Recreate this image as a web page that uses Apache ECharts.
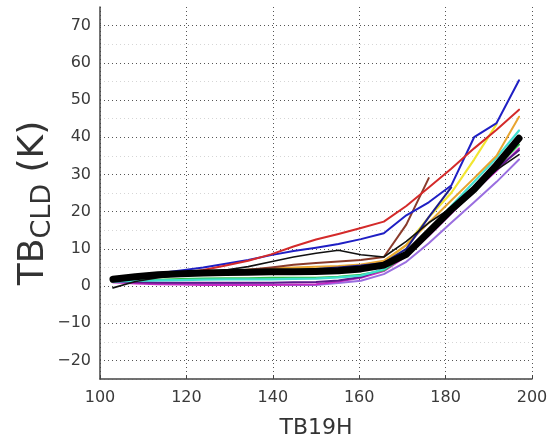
<!DOCTYPE html>
<html>
<head>
<meta charset="utf-8">
<script src="https://cdn.jsdelivr.net/npm/echarts@6/dist/echarts.min.js"></script>
<style>
  html, body { margin: 0; padding: 0; background: #fff; }
  #chart { width: 556px; height: 442px; }
</style>
</head>
<body>
<div id="chart"></div>
<script>
// TB19H bin centres (K)
const tb19h = [103, 108.2, 113.4, 118.7, 123.9, 129.1, 134.3, 139.6, 144.8, 150,
               155.2, 160.4, 165.7, 170.9, 176.1, 181.3, 186.6, 191.8, 197];

// Cloud brightness temperature per bin, one curve per case (null = no data)
const redCurve     = [1.5, 2.0, 2.6, 3.4, 4.3, 5.5, 6.8, 8.5, 10.6, 12.5, 14.0, 15.6, 17.3, 21.5, 26.5, 31.5, 37.0, 42.0, 47.4];
const blueCurve    = [1.8, 2.6, 3.4, 4.2, 5.0, 6.0, 7.0, 8.3, 9.4, 10.3, 11.3, 12.6, 14.2, 19.0, 22.5, 27.0, 40.0, 43.8, 55.3];
const navyCurve    = [1.6, 2.2, 2.7, 3.0, 3.3, 3.5, 3.7, 3.9, 4.2, 4.6, 5.0, 5.5, 6.2, 10.0, 18.5, 26.5, null, null, null];
const blackCurve   = [-0.5, 1.2, 2.2, 3.0, 3.6, 4.3, 5.2, 6.5, 7.8, 8.8, 9.6, 8.4, 7.8, 12.0, 17.0, 21.0, 26.0, 31.2, 35.3];
const brownCurve   = [1.6, 2.2, 2.7, 3.1, 3.5, 3.9, 4.4, 5.0, 5.7, 6.2, 6.6, 7.0, 7.8, 16.5, 29.0, null, null, null, null];
const orangeCurve  = [1.8, 2.4, 2.9, 3.3, 3.7, 4.0, 4.4, 4.8, 5.0, 5.2, 5.4, 5.8, 6.8, 11.0, 17.0, 23.0, 29.0, 35.0, 45.5];
const yellowCurve  = [1.7, 2.2, 2.6, 3.0, 3.3, 3.6, 3.9, 4.2, 4.4, 4.6, 4.8, 5.0, 6.5, 11.0, 18.5, 25.0, 34.0, 43.5, null];
const cyanCurve    = [1.2, 1.4, 1.5, 1.6, 1.7, 1.8, 1.8, 1.8, 1.9, 2.0, 2.3, 2.8, 4.5, 9.0, 15.0, 21.5, 28.0, 34.5, 41.8];
const greenCurve   = [1.3, 1.5, 1.7, 1.9, 2.0, 2.1, 2.1, 2.2, 2.2, 2.2, 2.5, 3.0, 4.2, 8.5, 14.0, 20.0, 26.0, 32.0, 38.0];
const magentaCurve = [1.0, 0.7, 0.5, 0.4, 0.3, 0.3, 0.3, 0.3, 0.4, 0.5, 1.2, 2.2, 4.0, 8.0, 13.5, 19.5, 25.5, 31.0, 37.0];
const darkPurpleCurve = [1.2, 1.0, 0.9, 0.9, 0.9, 0.9, 0.9, 0.9, 1.0, 1.1, 1.5, 2.4, 4.6, 8.5, 14.0, 20.0, 26.0, 31.5, 36.5];
const violetCurve  = [1.0, 1.0, 0.9, 0.8, 0.7, 0.6, 0.5, 0.4, 0.3, 0.3, 0.8, 1.4, 3.2, 6.5, 11.5, 17.0, 22.5, 28.0, 34.0];
const meanCurve    = [1.8, 2.5, 3.0, 3.3, 3.5, 3.6, 3.7, 3.8, 3.8, 3.9, 4.1, 4.6, 5.6, 8.5, 14.5, 20.5, 26.0, 32.5, 39.7];

const xTicks = [100, 120, 140, 160, 180, 200];
const yLabelStep = 10;

const curves = [
  { name: 'violet',     data: violetCurve,     color: '#9a6ee0', width: 2 },
  { name: 'magenta',    data: magentaCurve,    color: '#c42ac4', width: 2 },
  { name: 'darkPurple', data: darkPurpleCurve, color: '#5c1a8c', width: 2 },
  { name: 'green',      data: greenCurve,      color: '#2ec24a', width: 2 },
  { name: 'cyan',       data: cyanCurve,       color: '#40e0d0', width: 2.2 },
  { name: 'yellow',     data: yellowCurve,     color: '#f2e630', width: 2.2 },
  { name: 'orange',     data: orangeCurve,     color: '#e8a530', width: 2 },
  { name: 'brown',      data: brownCurve,      color: '#8a3b2b', width: 2 },
  { name: 'navy',       data: navyCurve,       color: '#1c1c8c', width: 2 },
  { name: 'black',      data: blackCurve,      color: '#111111', width: 1.6 },
  { name: 'blue',       data: blueCurve,       color: '#1f1fc4', width: 2 },
  { name: 'red',        data: redCurve,        color: '#d42a2a', width: 2 },
  { name: 'mean',       data: meanCurve,       color: '#000000', width: 7 }
];

const font = 'DejaVu Sans';
const chart = echarts.init(document.getElementById('chart'), null, { renderer: 'canvas' });

chart.setOption({
  backgroundColor: '#ffffff',
  animation: false,
  grid: { left: 100, right: 24, top: 7, bottom: 63, outerBoundsMode: 'none', containLabel: false },
  xAxis: {
    type: 'value',
    min: xTicks[0],
    max: xTicks[xTicks.length - 1],
    interval: 20,
    name: 'TB19H',
    nameLocation: 'middle',
    nameGap: 38,
    nameTextStyle: { fontFamily: font, fontSize: 22, color: '#333' },
    axisLine: { onZero: false, lineStyle: { color: '#444', width: 1.5 } },
    axisTick: { inside: true, length: 4, lineStyle: { color: '#444' } },
    axisLabel: { fontFamily: font, fontSize: 16, color: '#3a3a3a', margin: 11 },
    splitLine: {
      show: true,
      showMaxLine: true,
      lineStyle: { color: '#555', type: [1, 3], width: 1 }
    }
  },
  yAxis: {
    type: 'value',
    min: -25,
    max: 75,
    interval: 5,
    name: '{a|TB}{b|CLD}{a| (K)}',
    nameLocation: 'middle',
    nameRotate: 90,
    nameGap: 44,
    nameMoveOverlap: false,
    nameTextStyle: {
      padding: [0, 20, 0, 0],
      rich: {
        a: { fontFamily: font, fontSize: 36, color: '#333', lineHeight: 44 },
        b: { fontFamily: font, fontSize: 27, color: '#333', verticalAlign: 'bottom', lineHeight: 27 }
      }
    },
    axisLine: { show: true, onZero: false, lineStyle: { color: '#444', width: 1.5 } },
    axisTick: { show: false },
    axisLabel: {
      fontFamily: font, fontSize: 16, color: '#3a3a3a', margin: 9,
      formatter: v => (v % yLabelStep === 0 ? String(v).replace('-', '\u2212') : '')
    },
    splitLine: {
      show: true,
      showMinLine: true,
      showMaxLine: false,
      lineStyle: { color: ['#d6d6d6', '#555'], type: [1, 3], width: 1 }
    }
  },
  series: curves.map(c => ({
    type: 'line',
    name: c.name,
    data: tb19h.map((x, i) => [x, c.data[i]]).filter(p => p[1] !== null),
    showSymbol: false,
    symbol: 'none',
    lineStyle: { color: c.color, width: c.width, join: 'round', cap: 'round' },
    itemStyle: { color: c.color },
    z: c.name === 'mean' ? 5 : 3
  }))
});
</script>
</body>
</html>
